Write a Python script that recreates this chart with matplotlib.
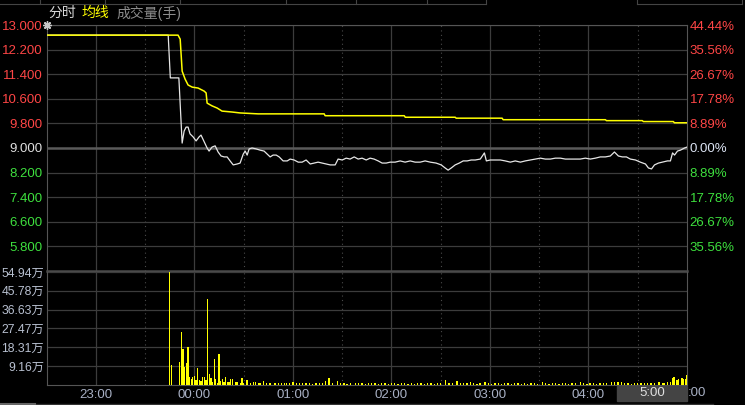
import matplotlib
matplotlib.use('Agg')
import matplotlib.pyplot as plt
from matplotlib.patches import Rectangle
from matplotlib.lines import Line2D

plt.rcParams['font.family'] = ['Liberation Sans', 'Noto Sans CJK SC', 'DejaVu Sans']

# minutes after 22:30, prev close 9.000
price_t = [0, 74, 75.3, 80.5, 82.5, 83.7, 84.9, 86.1, 87.3, 89.2,
           91, 92.8, 94, 95.9, 97.7, 98.9, 100.7, 102.6, 104.4, 106.2,
           108.1, 109.9, 111.7, 113.6, 116, 117.8, 119.7, 120.9, 122.1, 123.3,
           125.1, 127.6, 130, 132.4, 134.3, 136.1, 137.9, 139.8, 141.6, 144,
           146.5, 148.3, 150.7, 153.2, 155.6, 158, 160.5, 162.9, 165.3, 167.8,
           170.2, 172.7, 175.7, 177.5, 180, 182.4, 184.8, 187.3, 189.7, 192.1,
           194.6, 197, 199.4, 201.9, 204.3, 206.8, 209.2, 212.2, 215.3, 218.3,
           221.4, 224.4, 227.5, 230.5, 233.6, 237.2, 240.3, 242.7, 244.5, 246.4,
           248.8, 251.3, 253.7, 256.1, 258.6, 261, 264.1, 266.6, 267.8, 270.2,
           273.2, 276.3, 279.3, 282.4, 285.4, 288.5, 291.5, 294.6, 297.6, 300.7,
           303.7, 306.8, 309.8, 312.9, 315.9, 318.9, 322, 325, 328.1, 331.1,
           334.2, 337.2, 340.3, 343.3, 345.8, 348.2, 350.6, 353.1, 355.5, 358.6,
           361.6, 364.7, 366.5, 368.4, 370.2, 372.6, 375, 378.1, 379.9, 381.2,
           382.4, 384.2, 386, 388.5, 390]
price = [12.67, 12.67, 11.28, 11.28, 9.16, 9.55, 9.68, 9.68, 9.46, 9.36,
         9.23, 9.36, 9.42, 9.2, 9.0, 8.9, 9.03, 9.07, 8.87, 8.74,
         8.71, 8.71, 8.58, 8.45, 8.48, 8.51, 8.8, 8.9, 8.77, 8.97,
         9.0, 8.97, 8.93, 8.9, 8.8, 8.71, 8.77, 8.77, 8.71, 8.58,
         8.58, 8.64, 8.61, 8.54, 8.54, 8.61, 8.48, 8.51, 8.54, 8.51,
         8.48, 8.45, 8.45, 8.64, 8.61, 8.67, 8.64, 8.71, 8.64, 8.67,
         8.61, 8.67, 8.64, 8.58, 8.51, 8.51, 8.54, 8.54, 8.58, 8.54,
         8.58, 8.54, 8.54, 8.58, 8.54, 8.51, 8.45, 8.35, 8.28, 8.35,
         8.45, 8.51, 8.58, 8.58, 8.61, 8.61, 8.64, 8.84, 8.58, 8.61,
         8.61, 8.61, 8.58, 8.54, 8.58, 8.54, 8.58, 8.61, 8.64, 8.67,
         8.64, 8.64, 8.67, 8.67, 8.64, 8.64, 8.64, 8.64, 8.67, 8.64,
         8.67, 8.71, 8.71, 8.74, 8.87, 8.74, 8.71, 8.71, 8.64, 8.61,
         8.54, 8.48, 8.35, 8.32, 8.45, 8.51, 8.54, 8.58, 8.58, 8.84,
         8.77, 8.9, 8.93, 9.0, 9.03]

avg_t = [0, 80, 81.3, 82.5, 84.3, 86.1, 88.6, 92.2, 95.9, 97.1,
         97.7, 100.7, 103.8, 106.8, 112.9, 117.8, 128.8, 169, 169.6, 217.8,
         218.4, 248.8, 249.4, 277.4, 278, 340.3, 340.9, 362.8, 363.4, 381.7,
         382.3, 390]
avg_price = [12.67, 12.67, 12.54, 11.5, 11.24, 11.05, 10.98, 10.95, 10.85, 10.79,
             10.46, 10.37, 10.3, 10.2, 10.17, 10.14, 10.11, 10.11, 10.05, 10.05,
             10.0, 10.0, 9.97, 9.97, 9.92, 9.92, 9.89, 9.89, 9.86, 9.86,
             9.82, 9.82]

# volume in 万
vol_t = [75, 76, 81, 82, 83, 84, 85, 86, 87, 88,
         89, 90, 91, 92, 93, 94, 95, 96, 97, 98,
         99, 100, 101, 102, 103, 104, 105, 106, 107, 108,
         109, 110, 111, 112, 113, 115, 116, 118, 119, 120,
         122, 124, 126, 127, 129, 130, 132, 134, 136, 139,
         141, 143, 145, 146, 148, 150, 152, 154, 156, 158,
         160, 162, 164, 166, 168, 170, 172, 174, 177, 179,
         181, 183, 185, 188, 190, 192, 194, 196, 198, 200,
         202, 204, 206, 208, 210, 212, 214, 216, 218, 220,
         222, 224, 226, 228, 230, 232, 234, 236, 238, 240,
         243, 245, 247, 250, 252, 254, 256, 258, 260, 262,
         264, 267, 269, 271, 273, 275, 277, 279, 281, 283,
         285, 287, 289, 291, 293, 295, 297, 299, 302, 304,
         306, 308, 310, 312, 314, 316, 318, 320, 322, 325,
         327, 329, 331, 333, 335, 337, 339, 341, 344, 346,
         348, 350, 352, 354, 356, 358, 360, 362, 364, 366,
         368, 370, 373, 375, 376, 378, 380, 381, 382, 384,
         385, 387, 388, 389, 390]
vol = [54.94, 9.7, 11.1, 25.7, 17.4, 8.7, 10.5, 18.3, 3.8, 2.7,
       3.8, 4.3, 2.3, 8.2, 2.3, 2.0, 4.0, 4.0, 2.3, 41.8,
       5.3, 3.2, 1.5, 12.6, 2.8, 1.0, 15.0, 2.0, 2.8, 1.4,
       3.8, 1.5, 1.5, 2.7, 3.0, 1.2, 1.5, 1.0, 3.2, 1.0,
       2.3, 1.0, 1.2, 1.5, 1.0, 1.0, 1.8, 1.0, 1.0, 1.0,
       0.7, 0.8, 0.8, 1.0, 1.0, 1.2, 1.0, 1.0, 0.7, 0.8,
       0.7, 0.6, 0.8, 0.7, 0.9, 1.8, 3.3, 0.8, 1.8, 0.7,
       0.8, 0.6, 0.7, 0.9, 0.8, 0.7, 0.6, 0.8, 0.7, 0.9,
       0.6, 0.7, 0.8, 0.6, 0.7, 0.8, 0.6, 0.7, 0.9, 0.6,
       0.7, 0.6, 0.8, 0.7, 0.6, 0.7, 0.8, 0.6, 0.7, 0.8,
       2.3, 0.8, 0.7, 2.0, 0.9, 0.7, 0.8, 1.2, 0.7, 0.6,
       0.8, 1.2, 0.7, 0.6, 0.8, 0.7, 0.6, 0.7, 0.8, 0.6,
       0.7, 0.8, 0.6, 0.7, 0.6, 0.8, 0.7, 0.6, 1.2, 0.7,
       0.6, 0.8, 0.7, 0.6, 0.7, 0.8, 0.6, 0.7, 0.8, 1.5,
       0.7, 0.6, 0.8, 0.7, 0.6, 0.8, 0.7, 0.9, 1.5, 1.2,
       1.5, 1.2, 0.8, 0.7, 0.6, 0.7, 0.8, 1.0, 0.7, 0.8,
       0.9, 1.0, 1.5, 0.9, 1.0, 1.2, 1.5, 3.5, 4.0, 2.2,
       2.7, 3.2, 2.7, 3.0, 4.8]

price_ticks = [13.0, 12.2, 11.4, 10.6, 9.8, 9.0, 8.2, 7.4, 6.6, 5.8]
pct_labels = ['44.44%', '35.56%', '26.67%', '17.78%', '8.89%', '0.00%',
              '8.89%', '17.78%', '26.67%', '35.56%']
vol_ticks = [9.16, 18.31, 27.47, 36.63, 45.78, 54.94]
hour_ticks = [30, 90, 150, 210, 270, 330]
hour_labels = ['23:00', '00:00', '01:00', '02:00', '03:00', '04:00']
half_ticks = [60, 120, 180, 240, 300, 360]

W, H = 745, 405
RED = '#ff4646'
GREEN = '#3ee03e'
GRID = '#3c3c3c'
FRAME = '#555555'

fig = plt.figure(figsize=(W / 100, H / 100), dpi=100, facecolor='black')
L, R = 46.7, 687
ax = fig.add_axes([L / W, 1 - 271 / H, (R - L) / W, (271 - 25) / H])
axv = fig.add_axes([L / W, 1 - 384.8 / H, (R - L) / W, (384.8 - 272) / H])

for a in (ax, axv):
    a.set_facecolor('black')
    a.set_xlim(0, 390)
    for s in a.spines.values():
        s.set_color(FRAME)
        s.set_linewidth(0.8)
    for t in hour_ticks:
        a.axvline(t, color=GRID, lw=0.9, zorder=0)
    for t in half_ticks:
        a.axvline(t, color='#4a4a4a', lw=0.8, ls=(0, (1, 3)), zorder=0)

# price panel
ax.set_ylim(5.0, 13.0)
for p in price_ticks:
    if p != 9.0:
        ax.axhline(p, color=GRID, lw=0.9, zorder=0)
ax.axhline(9.0, color='#5a5a5a', lw=1.8, zorder=0)
ax.spines['bottom'].set_linewidth(1.8)
ax.spines['bottom'].set_color('#4a4a4a')
ax.plot(price_t, price, color='#e6e6e6', lw=0.9, zorder=3)
ax.plot(avg_t, avg_price, color='#ffff00', lw=1.1, zorder=3)
ax.plot([0], [13.0], marker=(8, 2, 0), ms=6, color='#c8c8c8', clip_on=False, zorder=5)

ax.set_xticks([])
ax.set_yticks(price_ticks)
ax.set_yticklabels(['%.3f' % p for p in price_ticks], fontsize=9.5)
ax.tick_params(axis='y', length=0, pad=3)
for lab, p in zip(ax.get_yticklabels(), price_ticks):
    lab.set_color(RED if p > 9.0 else (GREEN if p < 9.0 else '#e0e0e0'))

axr = ax.twinx()
axr.set_ylim(5.0, 13.0)
axr.set_yticks(price_ticks)
axr.set_yticklabels(pct_labels, fontsize=9.5)
axr.tick_params(axis='y', length=0, pad=2)
for s in axr.spines.values():
    s.set_visible(False)
for lab, p in zip(axr.get_yticklabels(), price_ticks):
    lab.set_color(RED if p > 9.0 else (GREEN if p < 9.0 else '#dce4f4'))

# volume panel
axv.set_ylim(0, 54.94)
for v in vol_ticks:
    axv.axhline(v, color=GRID, lw=0.9, zorder=0)
axv.spines['top'].set_visible(False)
axv.bar(vol_t, vol, width=0.8, color='#ffff00', linewidth=0, antialiased=False, zorder=3)
axv.set_yticks(vol_ticks)
axv.set_yticklabels(['%.2f万' % v for v in vol_ticks], fontsize=8.8)
axv.tick_params(axis='y', length=0, pad=2, labelcolor='#b8c0d0')
axv.set_xticks(hour_ticks)
axv.set_xticklabels(hour_labels, fontsize=9.5)
axv.tick_params(axis='x', length=0, pad=3, labelcolor='#a8b0c4')

# header legend
fig.text(48 / W, 1 - 13 / H, '分时', color='#d8d8d8', fontsize=10, va='center')
fig.text(82 / W, 1 - 13 / H, '均线', color='#ffff00', fontsize=10, va='center')
fig.text(116 / W, 1 - 13 / H, '成交量(手)', color='#8c8c8c', fontsize=10, va='center')

# cursor time box at bottom
fig.patches.append(Rectangle((617 / W, 1 - 401 / H), 70 / W, 15 / H,
                             transform=fig.transFigure, color='#444444', zorder=2))
fig.text(652 / W, 1 - 393.5 / H, '5:00', color='#e0e0e0', fontsize=9.5,
         ha='center', va='center', zorder=3)
fig.text(687.5 / W, 1 - 393.5 / H, ':00', color='#a8b0c4', fontsize=9.5,
         ha='left', va='center', zorder=3)

# top and bottom strips of the window
for x0, x1 in [(0, 486), (637, 742)]:
    fig.add_artist(Line2D([x0 / W, x1 / W], [1 - 3.5 / H, 1 - 3.5 / H], color='#444444', lw=0.8))
for x in [40, 105, 180, 286, 356, 427, 486, 637, 742]:
    fig.add_artist(Line2D([x / W, x / W], [1, 1 - 3.5 / H], color='#444444', lw=0.8))
fig.add_artist(Line2D([0, 713 / W], [1 - 403.5 / H, 1 - 403.5 / H], color='#333333', lw=1))
fig.add_artist(Line2D([0, 35 / W], [1 - 403.5 / H, 1 - 403.5 / H], color='#666666', lw=1.5))

fig.savefig('out.png', dpi=100, facecolor='black')
